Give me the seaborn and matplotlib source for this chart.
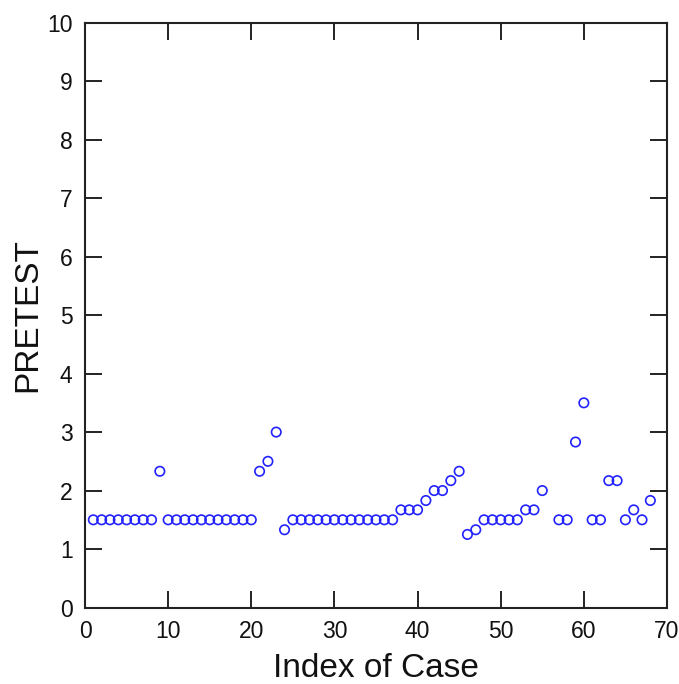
import matplotlib
matplotlib.use("Agg")
import matplotlib.pyplot as plt
import seaborn as sns
import pandas as pd

# Case numbers (case 56 has no recorded pretest value)
case_index = [1, 2, 3, 4, 5, 6, 7, 8, 9, 10,
              11, 12, 13, 14, 15, 16, 17, 18, 19, 20,
              21, 22, 23, 24, 25, 26, 27, 28, 29, 30,
              31, 32, 33, 34, 35, 36, 37, 38, 39, 40,
              41, 42, 43, 44, 45, 46, 47, 48, 49, 50,
              51, 52, 53, 54, 55, 57, 58, 59, 60,
              61, 62, 63, 64, 65, 66, 67, 68]

pretest = [1.5, 1.5, 1.5, 1.5, 1.5, 1.5, 1.5, 1.5, 2.33, 1.5,
           1.5, 1.5, 1.5, 1.5, 1.5, 1.5, 1.5, 1.5, 1.5, 1.5,
           2.33, 2.5, 3.0, 1.33, 1.5, 1.5, 1.5, 1.5, 1.5, 1.5,
           1.5, 1.5, 1.5, 1.5, 1.5, 1.5, 1.5, 1.67, 1.67, 1.67,
           1.83, 2.0, 2.0, 2.17, 2.33, 1.25, 1.33, 1.5, 1.5, 1.5,
           1.5, 1.5, 1.67, 1.67, 2.0, 1.5, 1.5, 2.83, 3.5,
           1.5, 1.5, 2.17, 2.17, 1.5, 1.67, 1.5, 1.83]

x_ticks = [0, 10, 20, 30, 40, 50, 60, 70]
y_ticks = [0, 1, 2, 3, 4, 5, 6, 7, 8, 9, 10]

df = pd.DataFrame({"Index of Case": case_index, "PRETEST": pretest})

sns.set_theme(style="white")
plt.rcParams["font.family"] = ["Liberation Sans", "DejaVu Sans"]

fig = plt.figure(figsize=(6.79, 6.84), dpi=100)
ax = fig.add_axes([0.1252, 0.1118, 0.8571, 0.855])

sns.scatterplot(data=df, x="Index of Case", y="PRETEST", ax=ax,
                marker="o", s=46, facecolor="none", edgecolor="#2222ff",
                linewidth=1.2)

ax.set_xlim(0, 70)
ax.set_ylim(0, 10)
ax.set_xticks(x_ticks)
ax.set_yticks(y_ticks)

tick_font = {"family": ["Liberation Sans Narrow", "Liberation Sans", "DejaVu Sans"],
             "size": 16.5}
ax.set_xticklabels([str(t) for t in x_ticks], fontdict=tick_font)
ax.set_yticklabels([str(t) for t in y_ticks], fontdict=tick_font)

ax.tick_params(direction="in", length=12, width=1.4, color="#222222",
               top=True, right=True, bottom=True, left=True,
               labeltop=False, labelright=False, pad=9, labelcolor="#111111")

for side in ["left", "right", "top", "bottom"]:
    ax.spines[side].set_visible(True)
    ax.spines[side].set_color("#222222")
    ax.spines[side].set_linewidth(1.5)

ax.set_xlabel("Index of Case", fontsize=24, color="#111111", labelpad=7)
ax.set_ylabel("PRETEST", fontsize=24, color="#111111", labelpad=3)
ax.grid(False)

fig.savefig("out.png", dpi=100, facecolor="white")
